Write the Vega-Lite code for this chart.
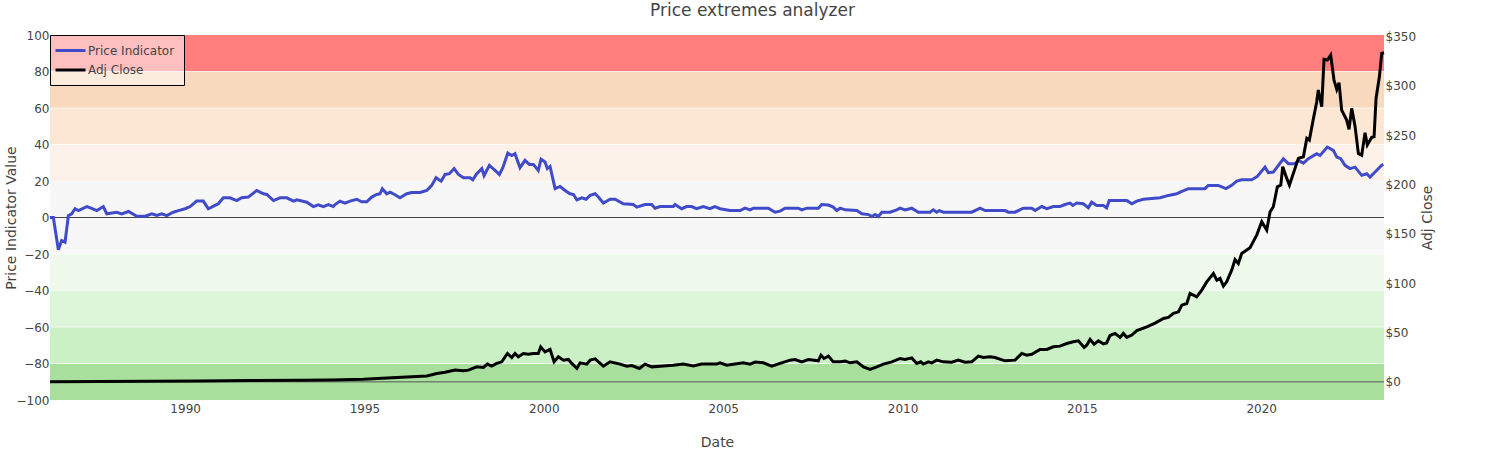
{
  "$schema": "https://vega.github.io/schema/vega-lite/v6.json",
  "width": 1334,
  "height": 365,
  "autosize": {"type": "none"},
  "padding": {"left": 50, "top": 35, "right": 120, "bottom": 50},
  "background": "white",
  "title": {
    "text": "Price extremes analyzer",
    "fontSize": 17,
    "fontWeight": "normal",
    "color": "#444",
    "font": "DejaVu Sans",
    "anchor": "middle",
    "frame": "group",
    "dx": 35.5,
    "offset": -4,
    "baseline": "alphabetic"
  },
  "datasets": {
    "bands": [
      {"lo": -100, "hi": -80},
      {"lo": -80, "hi": -60},
      {"lo": -60, "hi": -40},
      {"lo": -40, "hi": -20},
      {"lo": -20, "hi": 20},
      {"lo": 20, "hi": 40},
      {"lo": 40, "hi": 60},
      {"lo": 60, "hi": 80},
      {"lo": 80, "hi": 100}
    ],
    "indicator": [
      {"date": "1986-03-27", "value": 0},
      {"date": "1986-04-30", "value": 0},
      {"date": "1986-06-20", "value": -17.7},
      {"date": "1986-07-24", "value": -12.6},
      {"date": "1986-08-27", "value": -13.5},
      {"date": "1986-09-30", "value": 1},
      {"date": "1986-11-03", "value": 2},
      {"date": "1986-12-07", "value": 4.8},
      {"date": "1987-01-10", "value": 3.8},
      {"date": "1987-04-06", "value": 6},
      {"date": "1987-05-26", "value": 5},
      {"date": "1987-07-16", "value": 3.8},
      {"date": "1987-09-21", "value": 6},
      {"date": "1987-10-26", "value": 2},
      {"date": "1988-02-05", "value": 2.9},
      {"date": "1988-03-27", "value": 2},
      {"date": "1988-06-03", "value": 3.3},
      {"date": "1988-08-27", "value": 0.7},
      {"date": "1988-11-20", "value": 0.7},
      {"date": "1989-01-26", "value": 2},
      {"date": "1989-03-18", "value": 1.1},
      {"date": "1989-05-08", "value": 2},
      {"date": "1989-06-28", "value": 1},
      {"date": "1989-09-03", "value": 2.9},
      {"date": "1989-10-24", "value": 3.8},
      {"date": "1990-01-01", "value": 4.8},
      {"date": "1990-02-21", "value": 6},
      {"date": "1990-04-28", "value": 9},
      {"date": "1990-07-05", "value": 9},
      {"date": "1990-08-25", "value": 4.8},
      {"date": "1990-11-01", "value": 6.6},
      {"date": "1990-12-05", "value": 7.5},
      {"date": "1991-01-25", "value": 10.8},
      {"date": "1991-04-03", "value": 10.8},
      {"date": "1991-06-10", "value": 9.3},
      {"date": "1991-07-31", "value": 10.8},
      {"date": "1991-10-06", "value": 11.2},
      {"date": "1991-12-31", "value": 14.8},
      {"date": "1992-03-08", "value": 13},
      {"date": "1992-04-12", "value": 12.6},
      {"date": "1992-06-18", "value": 9.3},
      {"date": "1992-08-25", "value": 10.8},
      {"date": "1992-11-01", "value": 10.8},
      {"date": "1993-01-08", "value": 9},
      {"date": "1993-02-12", "value": 9.7},
      {"date": "1993-05-24", "value": 8.4},
      {"date": "1993-07-30", "value": 6},
      {"date": "1993-09-19", "value": 7},
      {"date": "1993-11-08", "value": 6},
      {"date": "1993-12-30", "value": 7.1},
      {"date": "1994-02-18", "value": 6},
      {"date": "1994-03-08", "value": 7.1},
      {"date": "1994-04-27", "value": 9},
      {"date": "1994-06-17", "value": 7.9},
      {"date": "1994-08-07", "value": 9},
      {"date": "1994-10-14", "value": 10},
      {"date": "1994-12-04", "value": 8.6},
      {"date": "1995-01-24", "value": 8.6},
      {"date": "1995-03-16", "value": 11.2},
      {"date": "1995-05-06", "value": 12.6},
      {"date": "1995-06-09", "value": 13},
      {"date": "1995-07-02", "value": 15.8},
      {"date": "1995-08-16", "value": 13},
      {"date": "1995-09-19", "value": 13.9},
      {"date": "1995-11-08", "value": 12.5},
      {"date": "1995-12-29", "value": 10.8},
      {"date": "1996-03-07", "value": 13},
      {"date": "1996-04-27", "value": 13.7},
      {"date": "1996-07-20", "value": 13.7},
      {"date": "1996-09-27", "value": 14.8},
      {"date": "1996-11-16", "value": 17.6},
      {"date": "1996-12-30", "value": 21.8},
      {"date": "1997-02-20", "value": 19.9},
      {"date": "1997-04-01", "value": 23.6},
      {"date": "1997-05-15", "value": 24},
      {"date": "1997-07-02", "value": 26.8},
      {"date": "1997-08-15", "value": 23.6},
      {"date": "1997-10-05", "value": 21.8},
      {"date": "1997-12-12", "value": 21.8},
      {"date": "1998-01-08", "value": 20.7},
      {"date": "1998-02-18", "value": 24},
      {"date": "1998-04-10", "value": 26.8},
      {"date": "1998-05-03", "value": 23},
      {"date": "1998-06-26", "value": 28.6},
      {"date": "1998-08-23", "value": 25.8},
      {"date": "1998-10-06", "value": 23.6},
      {"date": "1998-11-10", "value": 27.3},
      {"date": "1998-12-31", "value": 35.3},
      {"date": "1999-02-09", "value": 34},
      {"date": "1999-03-14", "value": 35},
      {"date": "1999-05-04", "value": 27.3},
      {"date": "1999-06-24", "value": 31.3},
      {"date": "1999-08-07", "value": 29.1},
      {"date": "1999-09-17", "value": 29.1},
      {"date": "1999-11-06", "value": 25.8},
      {"date": "1999-12-04", "value": 31.9},
      {"date": "2000-01-14", "value": 30.4},
      {"date": "2000-02-06", "value": 26.8},
      {"date": "2000-03-05", "value": 28},
      {"date": "2000-04-25", "value": 15.8},
      {"date": "2000-06-15", "value": 17},
      {"date": "2000-08-05", "value": 14.8},
      {"date": "2000-09-25", "value": 13},
      {"date": "2000-10-29", "value": 12.6},
      {"date": "2000-12-03", "value": 9.7},
      {"date": "2001-01-22", "value": 10.8},
      {"date": "2001-03-07", "value": 10},
      {"date": "2001-04-17", "value": 12.1},
      {"date": "2001-06-07", "value": 13},
      {"date": "2001-07-10", "value": 11.2},
      {"date": "2001-08-30", "value": 7.9},
      {"date": "2001-11-06", "value": 10},
      {"date": "2001-12-27", "value": 10},
      {"date": "2002-03-21", "value": 7.5},
      {"date": "2002-07-01", "value": 7.1},
      {"date": "2002-08-05", "value": 5.7},
      {"date": "2002-10-28", "value": 7.1},
      {"date": "2003-01-04", "value": 7.1},
      {"date": "2003-02-07", "value": 5.1},
      {"date": "2003-03-30", "value": 6},
      {"date": "2003-08-12", "value": 6},
      {"date": "2003-08-29", "value": 7.1},
      {"date": "2003-11-05", "value": 4.8},
      {"date": "2003-12-26", "value": 6},
      {"date": "2004-02-15", "value": 6},
      {"date": "2004-04-06", "value": 4.8},
      {"date": "2004-06-12", "value": 6},
      {"date": "2004-08-19", "value": 4.8},
      {"date": "2004-10-09", "value": 6},
      {"date": "2004-11-30", "value": 4.8},
      {"date": "2005-03-12", "value": 3.8},
      {"date": "2005-06-22", "value": 3.8},
      {"date": "2005-08-12", "value": 5.1},
      {"date": "2005-10-02", "value": 4.2},
      {"date": "2005-11-05", "value": 5.1},
      {"date": "2006-04-06", "value": 5.1},
      {"date": "2006-06-13", "value": 2.9},
      {"date": "2006-08-03", "value": 3.5},
      {"date": "2006-09-23", "value": 5.1},
      {"date": "2007-02-06", "value": 5.1},
      {"date": "2007-03-12", "value": 4.2},
      {"date": "2007-05-02", "value": 5.1},
      {"date": "2007-08-28", "value": 5.1},
      {"date": "2007-10-01", "value": 7.1},
      {"date": "2007-12-08", "value": 6.8},
      {"date": "2008-01-27", "value": 5.7},
      {"date": "2008-03-03", "value": 3.8},
      {"date": "2008-04-06", "value": 5.1},
      {"date": "2008-05-27", "value": 4.2},
      {"date": "2008-09-23", "value": 3.8},
      {"date": "2008-11-13", "value": 2},
      {"date": "2009-01-19", "value": 1.6},
      {"date": "2009-02-22", "value": 0.5},
      {"date": "2009-03-28", "value": 1.6},
      {"date": "2009-04-30", "value": 0.5},
      {"date": "2009-06-04", "value": 2.9},
      {"date": "2009-08-27", "value": 2.9},
      {"date": "2009-11-03", "value": 4.2},
      {"date": "2009-12-07", "value": 5.1},
      {"date": "2010-01-27", "value": 4.2},
      {"date": "2010-04-05", "value": 5.1},
      {"date": "2010-06-11", "value": 2.9},
      {"date": "2010-10-08", "value": 2.9},
      {"date": "2010-11-11", "value": 4.2},
      {"date": "2010-12-16", "value": 2.9},
      {"date": "2011-01-11", "value": 3.8},
      {"date": "2011-02-21", "value": 2.9},
      {"date": "2011-12-07", "value": 2.9},
      {"date": "2012-03-01", "value": 5.1},
      {"date": "2012-04-21", "value": 3.8},
      {"date": "2012-11-10", "value": 3.8},
      {"date": "2012-12-14", "value": 2.9},
      {"date": "2013-02-20", "value": 2.9},
      {"date": "2013-05-15", "value": 5.1},
      {"date": "2013-08-09", "value": 5.1},
      {"date": "2013-09-12", "value": 3.8},
      {"date": "2013-11-19", "value": 6},
      {"date": "2014-01-09", "value": 4.8},
      {"date": "2014-03-17", "value": 6},
      {"date": "2014-05-24", "value": 6},
      {"date": "2014-07-14", "value": 7.1},
      {"date": "2014-09-03", "value": 7.9},
      {"date": "2014-10-01", "value": 6.6},
      {"date": "2014-11-10", "value": 7.9},
      {"date": "2015-01-16", "value": 7.5},
      {"date": "2015-03-08", "value": 5.3},
      {"date": "2015-04-11", "value": 8.4},
      {"date": "2015-06-01", "value": 6.6},
      {"date": "2015-08-08", "value": 6.6},
      {"date": "2015-09-11", "value": 5.3},
      {"date": "2015-10-07", "value": 9.3},
      {"date": "2016-04-03", "value": 9.3},
      {"date": "2016-05-24", "value": 7.5},
      {"date": "2016-07-14", "value": 9},
      {"date": "2016-09-19", "value": 10},
      {"date": "2017-03-08", "value": 10.8},
      {"date": "2017-06-01", "value": 12.1},
      {"date": "2017-08-25", "value": 13},
      {"date": "2017-09-28", "value": 13.9},
      {"date": "2017-12-21", "value": 15.8},
      {"date": "2018-06-08", "value": 15.8},
      {"date": "2018-07-11", "value": 17.6},
      {"date": "2018-10-21", "value": 17.6},
      {"date": "2019-01-08", "value": 15.8},
      {"date": "2019-03-07", "value": 17.6},
      {"date": "2019-04-27", "value": 19.9},
      {"date": "2019-06-17", "value": 20.7},
      {"date": "2019-09-27", "value": 20.7},
      {"date": "2019-11-23", "value": 22.5},
      {"date": "2020-02-09", "value": 27.6},
      {"date": "2020-03-14", "value": 24.6},
      {"date": "2020-05-04", "value": 24.9},
      {"date": "2020-08-14", "value": 32.2},
      {"date": "2020-10-04", "value": 29.5},
      {"date": "2020-12-12", "value": 29.5},
      {"date": "2021-01-14", "value": 31.3},
      {"date": "2021-03-06", "value": 29.8},
      {"date": "2021-04-26", "value": 32.2},
      {"date": "2021-07-20", "value": 35},
      {"date": "2021-08-23", "value": 34},
      {"date": "2021-11-05", "value": 38.6},
      {"date": "2022-01-05", "value": 36.8},
      {"date": "2022-02-09", "value": 33.1},
      {"date": "2022-03-21", "value": 32.2},
      {"date": "2022-05-04", "value": 28.6},
      {"date": "2022-06-24", "value": 26.8},
      {"date": "2022-08-14", "value": 27.6},
      {"date": "2022-10-21", "value": 23.1},
      {"date": "2022-12-11", "value": 24},
      {"date": "2023-01-14", "value": 22.1},
      {"date": "2023-03-06", "value": 24.9},
      {"date": "2023-05-13", "value": 28.6},
      {"date": "2023-05-29", "value": 29.1}
    ],
    "close": [
      {"date": "1986-03-27", "close": 0.1},
      {"date": "1987-08-19", "close": 0.4},
      {"date": "1989-01-09", "close": 0.6},
      {"date": "1990-06-02", "close": 0.9},
      {"date": "1991-10-24", "close": 1.3},
      {"date": "1993-03-17", "close": 1.7},
      {"date": "1994-01-16", "close": 1.9},
      {"date": "1994-12-20", "close": 2.6},
      {"date": "1995-11-26", "close": 4.5},
      {"date": "1996-09-27", "close": 6},
      {"date": "1997-01-07", "close": 8.5},
      {"date": "1997-04-01", "close": 9.8},
      {"date": "1997-07-12", "close": 11.9},
      {"date": "1997-10-05", "close": 11.2},
      {"date": "1997-11-25", "close": 11.9},
      {"date": "1998-02-18", "close": 15.2},
      {"date": "1998-04-26", "close": 14.6},
      {"date": "1998-06-06", "close": 18},
      {"date": "1998-07-20", "close": 15.9},
      {"date": "1998-09-09", "close": 18.7},
      {"date": "1998-10-30", "close": 20.3},
      {"date": "1998-12-27", "close": 28.8},
      {"date": "1999-02-09", "close": 24.7},
      {"date": "1999-03-14", "close": 28.8},
      {"date": "1999-04-17", "close": 25.4},
      {"date": "1999-06-07", "close": 28.8},
      {"date": "1999-07-28", "close": 28},
      {"date": "1999-09-17", "close": 28.8},
      {"date": "1999-11-06", "close": 28.8},
      {"date": "1999-12-01", "close": 35.5},
      {"date": "2000-01-14", "close": 30.4},
      {"date": "2000-03-05", "close": 32.9},
      {"date": "2000-04-15", "close": 20.3},
      {"date": "2000-05-29", "close": 25.4},
      {"date": "2000-07-19", "close": 22},
      {"date": "2000-09-08", "close": 22.7},
      {"date": "2000-10-12", "close": 18.7},
      {"date": "2000-12-03", "close": 13.6},
      {"date": "2001-01-05", "close": 19.3},
      {"date": "2001-03-14", "close": 18},
      {"date": "2001-04-17", "close": 22},
      {"date": "2001-06-07", "close": 23.3},
      {"date": "2001-08-30", "close": 15.9},
      {"date": "2001-11-06", "close": 20.3},
      {"date": "2002-02-16", "close": 18},
      {"date": "2002-04-25", "close": 15.9},
      {"date": "2002-06-15", "close": 16.6},
      {"date": "2002-09-01", "close": 13.6},
      {"date": "2002-10-28", "close": 18},
      {"date": "2003-01-04", "close": 15.2},
      {"date": "2003-03-30", "close": 15.9},
      {"date": "2003-08-12", "close": 16.9},
      {"date": "2003-11-22", "close": 18},
      {"date": "2004-03-03", "close": 16.2},
      {"date": "2004-05-27", "close": 18},
      {"date": "2004-10-27", "close": 18},
      {"date": "2004-11-30", "close": 19.3},
      {"date": "2005-02-07", "close": 16.9},
      {"date": "2005-07-25", "close": 19.3},
      {"date": "2005-10-02", "close": 18},
      {"date": "2005-11-22", "close": 20},
      {"date": "2006-02-14", "close": 19.3},
      {"date": "2006-05-10", "close": 15.9},
      {"date": "2006-08-03", "close": 18.7},
      {"date": "2006-11-13", "close": 22},
      {"date": "2007-01-03", "close": 22.7},
      {"date": "2007-03-12", "close": 20.3},
      {"date": "2007-05-18", "close": 22.7},
      {"date": "2007-08-28", "close": 21.3},
      {"date": "2007-09-24", "close": 27.1},
      {"date": "2007-10-24", "close": 23.7},
      {"date": "2007-12-08", "close": 26.1},
      {"date": "2008-01-27", "close": 20.3},
      {"date": "2008-04-06", "close": 20.3},
      {"date": "2008-05-27", "close": 21},
      {"date": "2008-07-17", "close": 19.3},
      {"date": "2008-09-23", "close": 20.3},
      {"date": "2008-11-29", "close": 15.2},
      {"date": "2009-02-05", "close": 12.6},
      {"date": "2009-04-14", "close": 15.2},
      {"date": "2009-06-20", "close": 18},
      {"date": "2009-09-14", "close": 20.3},
      {"date": "2009-12-07", "close": 23.7},
      {"date": "2010-01-27", "close": 22.7},
      {"date": "2010-04-05", "close": 24.3},
      {"date": "2010-05-26", "close": 18.7},
      {"date": "2010-07-06", "close": 20.3},
      {"date": "2010-08-01", "close": 18},
      {"date": "2010-09-21", "close": 20.3},
      {"date": "2010-10-26", "close": 19.3},
      {"date": "2010-12-16", "close": 22},
      {"date": "2011-02-21", "close": 20.3},
      {"date": "2011-05-17", "close": 20},
      {"date": "2011-07-23", "close": 22},
      {"date": "2011-09-29", "close": 20},
      {"date": "2011-12-07", "close": 20.3},
      {"date": "2012-02-12", "close": 26.1},
      {"date": "2012-04-03", "close": 24.7},
      {"date": "2012-06-10", "close": 25.4},
      {"date": "2012-07-31", "close": 24.7},
      {"date": "2012-11-10", "close": 21.3},
      {"date": "2013-02-20", "close": 22},
      {"date": "2013-04-29", "close": 28.8},
      {"date": "2013-06-19", "close": 27.1},
      {"date": "2013-08-09", "close": 28},
      {"date": "2013-11-01", "close": 32.9},
      {"date": "2014-01-09", "close": 32.9},
      {"date": "2014-03-17", "close": 35.5},
      {"date": "2014-05-24", "close": 36.2},
      {"date": "2014-07-31", "close": 38.9},
      {"date": "2014-10-07", "close": 40.6},
      {"date": "2014-11-27", "close": 41.6},
      {"date": "2015-01-24", "close": 34.9},
      {"date": "2015-02-20", "close": 37.2},
      {"date": "2015-03-26", "close": 43},
      {"date": "2015-05-06", "close": 38.2},
      {"date": "2015-06-19", "close": 41.6},
      {"date": "2015-08-08", "close": 38.5},
      {"date": "2015-09-11", "close": 39.5},
      {"date": "2015-10-15", "close": 47},
      {"date": "2015-12-05", "close": 49.1},
      {"date": "2016-01-25", "close": 45},
      {"date": "2016-02-28", "close": 49.1},
      {"date": "2016-04-03", "close": 45},
      {"date": "2016-05-24", "close": 47.4},
      {"date": "2016-07-14", "close": 52},
      {"date": "2016-10-24", "close": 55.8},
      {"date": "2017-01-16", "close": 59.5},
      {"date": "2017-04-11", "close": 64.3},
      {"date": "2017-06-01", "close": 65.3},
      {"date": "2017-07-22", "close": 69.4},
      {"date": "2017-09-11", "close": 71},
      {"date": "2017-10-15", "close": 77.8},
      {"date": "2017-12-05", "close": 79.5},
      {"date": "2018-01-07", "close": 89.7},
      {"date": "2018-03-16", "close": 86.2},
      {"date": "2018-05-06", "close": 93},
      {"date": "2018-06-26", "close": 101.4},
      {"date": "2018-09-02", "close": 109.9},
      {"date": "2018-10-07", "close": 103.1},
      {"date": "2018-11-09", "close": 104.9},
      {"date": "2018-12-13", "close": 97.1},
      {"date": "2019-01-15", "close": 101.4},
      {"date": "2019-03-07", "close": 113.3},
      {"date": "2019-04-10", "close": 124.1},
      {"date": "2019-05-14", "close": 120},
      {"date": "2019-06-17", "close": 130.2},
      {"date": "2019-09-10", "close": 136},
      {"date": "2019-11-17", "close": 148.8},
      {"date": "2020-01-07", "close": 162.3},
      {"date": "2020-02-27", "close": 153.9},
      {"date": "2020-04-01", "close": 172.4},
      {"date": "2020-05-04", "close": 177.5},
      {"date": "2020-06-14", "close": 197.8},
      {"date": "2020-07-19", "close": 199.5},
      {"date": "2020-08-08", "close": 218.1},
      {"date": "2020-09-18", "close": 206.3},
      {"date": "2020-10-15", "close": 199.5},
      {"date": "2020-11-24", "close": 211.4},
      {"date": "2021-01-14", "close": 226.6},
      {"date": "2021-03-06", "close": 228.2},
      {"date": "2021-04-10", "close": 246.9},
      {"date": "2021-05-06", "close": 245.1},
      {"date": "2021-06-10", "close": 263.7},
      {"date": "2021-07-20", "close": 284},
      {"date": "2021-08-05", "close": 295.9},
      {"date": "2021-09-09", "close": 278.9},
      {"date": "2021-10-02", "close": 327},
      {"date": "2021-11-05", "close": 326.3},
      {"date": "2021-12-09", "close": 331.3},
      {"date": "2022-01-12", "close": 306},
      {"date": "2022-02-09", "close": 296.6},
      {"date": "2022-03-04", "close": 303.3},
      {"date": "2022-03-31", "close": 275.6},
      {"date": "2022-05-21", "close": 265.4},
      {"date": "2022-06-14", "close": 256},
      {"date": "2022-07-11", "close": 277.3},
      {"date": "2022-08-14", "close": 259.3},
      {"date": "2022-09-17", "close": 231.6},
      {"date": "2022-10-21", "close": 229.9},
      {"date": "2022-11-24", "close": 252.5},
      {"date": "2022-12-17", "close": 240.1},
      {"date": "2023-01-31", "close": 247.9},
      {"date": "2023-02-24", "close": 248.5},
      {"date": "2023-03-16", "close": 287.4},
      {"date": "2023-04-19", "close": 309.3},
      {"date": "2023-05-13", "close": 333},
      {"date": "2023-06-05", "close": 333.7}
    ]
  },
  "layer": [
    {
      "layer": [
        {
          "data": {"name": "bands"},
          "mark": {"type": "rect"},
          "encoding": {
            "y": {
              "field": "lo",
              "type": "quantitative",
              "scale": {"domain": [-100, 100], "nice": false, "zero": false},
              "axis": {
                "title": "Price Indicator Value",
                "orient": "left",
                "values": [-100, -80, -60, -40, -20, 0, 20, 40, 60, 80, 100],
                "labelPadding": 1,
                "labelFlush": false,
                "labelOverlap": false,
                "labelSeparation": 0,
                "titleX": -34.3,
                "titleY": 182.5,
                "titleAngle": 270,
                "titleAlign": "center",
                "titleBaseline": "alphabetic"
              }
            },
            "y2": {"field": "hi"},
            "fill": {
              "field": "lo",
              "type": "ordinal",
              "scale": {
                "domain": [-100, -80, -60, -40, -20, 20, 40, 60, 80],
                "range": ["#A8DF9C", "#CCF0C6", "#DDF5D9", "#EFF9EB", "#F7F7F7", "#FCF2E9", "#FCE7D5", "#F8D9BD", "#FF7F7F"]
              },
              "legend": null
            }
          }
        },
        {
          "data": {"name": "bands"},
          "transform": [{"filter": "datum.hi < 100"}],
          "mark": {"type": "rule", "color": "white", "strokeWidth": 1, "opacity": 0.7},
          "encoding": {
            "y": {
              "field": "hi",
              "type": "quantitative",
              "axis": {
                "title": "Price Indicator Value",
                "orient": "left",
                "values": [-100, -80, -60, -40, -20, 0, 20, 40, 60, 80, 100],
                "labelPadding": 1,
                "labelFlush": false,
                "labelOverlap": false,
                "labelSeparation": 0,
                "titleX": -34.3,
                "titleY": 182.5,
                "titleAngle": 270,
                "titleAlign": "center",
                "titleBaseline": "alphabetic"
              }
            }
          }
        },
        {
          "data": {"values": [{}]},
          "mark": {"type": "rule", "color": "#444", "strokeWidth": 1},
          "encoding": {
            "y": {
              "datum": 0,
              "type": "quantitative",
              "axis": {
                "title": "Price Indicator Value",
                "orient": "left",
                "values": [-100, -80, -60, -40, -20, 0, 20, 40, 60, 80, 100],
                "labelPadding": 1,
                "labelFlush": false,
                "labelOverlap": false,
                "labelSeparation": 0,
                "titleX": -34.3,
                "titleY": 182.5,
                "titleAngle": 270,
                "titleAlign": "center",
                "titleBaseline": "alphabetic"
              }
            }
          }
        },
        {
          "data": {"name": "indicator"},
          "mark": {"type": "line", "strokeWidth": 3},
          "encoding": {
            "x": {
              "field": "date",
              "type": "temporal",
              "scale": {
                "type": "utc",
                "domain": [
                  {"year": 1986, "month": 3, "date": 27, "utc": true},
                  {"year": 2023, "month": 6, "date": 5, "utc": true}
                ]
              },
              "axis": {
                "title": "Date",
                "format": "%Y",
                "values": [
                  {"year": 1990, "utc": true},
                  {"year": 1995, "utc": true},
                  {"year": 2000, "utc": true},
                  {"year": 2005, "utc": true},
                  {"year": 2010, "utc": true},
                  {"year": 2015, "utc": true},
                  {"year": 2020, "utc": true}
                ],
                "labelPadding": 3,
                "labelFlush": false,
                "titleX": 667,
                "titleY": 46,
                "titleAlign": "center",
                "titleBaseline": "alphabetic"
              }
            },
            "y": {
              "field": "value",
              "type": "quantitative",
              "axis": {
                "title": "Price Indicator Value",
                "orient": "left",
                "values": [-100, -80, -60, -40, -20, 0, 20, 40, 60, 80, 100],
                "labelPadding": 1,
                "labelFlush": false,
                "labelOverlap": false,
                "labelSeparation": 0,
                "titleX": -34.3,
                "titleY": 182.5,
                "titleAngle": 270,
                "titleAlign": "center",
                "titleBaseline": "alphabetic"
              }
            },
            "color": {
              "datum": "Price Indicator",
              "type": "nominal",
              "scale": {
                "domain": ["Price Indicator", "Adj Close"],
                "range": ["#3F4BC8", "#000000"]
              },
              "legend": {
                "title": null,
                "orient": "top-left",
                "offset": 0,
                "padding": 9,
                "strokeColor": "#000000",
                "fillColor": "rgba(255,255,255,0.5)",
                "symbolType": "M-3,0H3",
                "symbolSize": 100,
                "symbolStrokeWidth": 3,
                "symbolOffset": 5,
                "labelOffset": 11,
                "labelFontSize": 12,
                "labelColor": "#444",
                "labelFont": "DejaVu Sans",
                "rowPadding": 6.5
              }
            }
          }
        }
      ]
    },
    {
      "layer": [
        {
          "data": {"values": [{}]},
          "mark": {"type": "rule", "color": "#555", "strokeWidth": 1},
          "encoding": {
            "y": {
              "datum": 0,
              "type": "quantitative",
              "scale": {"domain": [-18.4, 351.7], "nice": false, "zero": false},
              "axis": {
                "title": "Adj Close",
                "orient": "right",
                "values": [0, 50, 100, 150, 200, 250, 300, 350],
                "format": "$.0f",
                "labelPadding": 1,
                "labelFlush": false,
                "labelOverlap": false,
                "titleX": 47,
                "titleY": 182.5,
                "titleAngle": 270,
                "titleAlign": "center",
                "titleBaseline": "alphabetic"
              }
            }
          }
        },
        {
          "data": {"name": "close"},
          "mark": {"type": "line", "strokeWidth": 3},
          "encoding": {
            "x": {
              "field": "date",
              "type": "temporal",
              "scale": {
                "type": "utc",
                "domain": [
                  {"year": 1986, "month": 3, "date": 27, "utc": true},
                  {"year": 2023, "month": 6, "date": 5, "utc": true}
                ]
              },
              "axis": {
                "title": "Date",
                "format": "%Y",
                "values": [
                  {"year": 1990, "utc": true},
                  {"year": 1995, "utc": true},
                  {"year": 2000, "utc": true},
                  {"year": 2005, "utc": true},
                  {"year": 2010, "utc": true},
                  {"year": 2015, "utc": true},
                  {"year": 2020, "utc": true}
                ],
                "labelPadding": 3,
                "labelFlush": false,
                "titleX": 667,
                "titleY": 46,
                "titleAlign": "center",
                "titleBaseline": "alphabetic"
              }
            },
            "y": {
              "field": "close",
              "type": "quantitative",
              "axis": {
                "title": "Adj Close",
                "orient": "right",
                "values": [0, 50, 100, 150, 200, 250, 300, 350],
                "format": "$.0f",
                "labelPadding": 1,
                "labelFlush": false,
                "labelOverlap": false,
                "titleX": 47,
                "titleY": 182.5,
                "titleAngle": 270,
                "titleAlign": "center",
                "titleBaseline": "alphabetic"
              }
            },
            "color": {"datum": "Adj Close", "type": "nominal"}
          }
        }
      ]
    }
  ],
  "resolve": {"scale": {"y": "independent"}},
  "config": {
    "font": "DejaVu Sans",
    "view": {"stroke": null},
    "legend": {"strokeWidth": 1},
    "axis": {
      "domain": false,
      "ticks": false,
      "grid": false,
      "labelOverlap": false,
      "labelFont": "DejaVu Sans",
      "labelFontSize": 12,
      "labelColor": "#444",
      "titleFont": "DejaVu Sans",
      "titleFontSize": 14,
      "titleColor": "#444",
      "titleFontWeight": "normal"
    },
    "axisY": {"labelOverlap": false},
    "axisQuantitative": {"labelOverlap": false}
  }
}
